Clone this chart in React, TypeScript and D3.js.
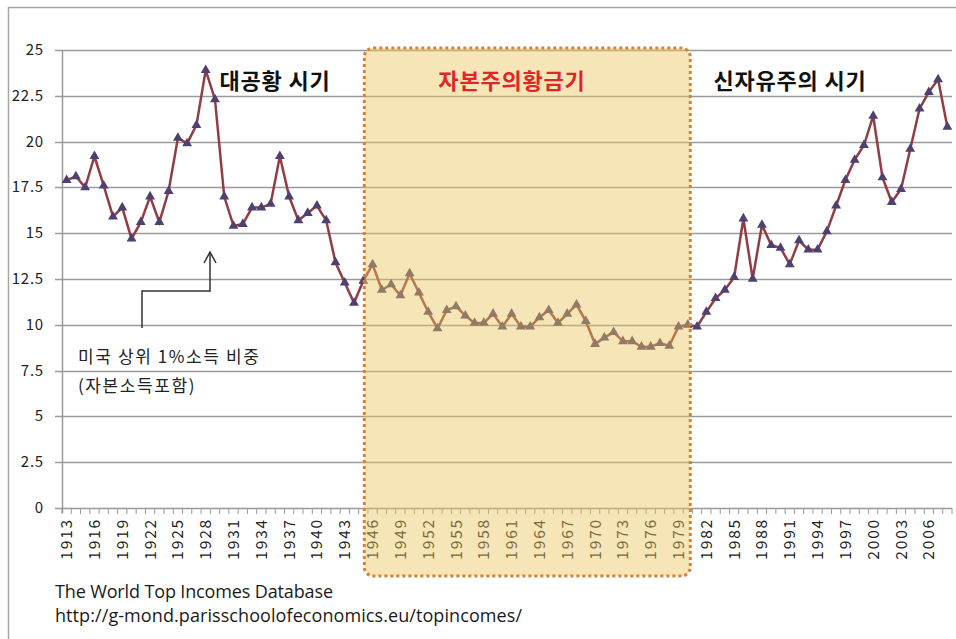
import React, { useEffect, useRef } from "react";
import * as d3 from "d3";

// 미국 상위 1% 소득 비중 (자본소득 포함), 1913-2008
const years: number[] = d3.range(1913, 2009);
const shares: number[] = [
  17.9, 18.1, 17.5, 19.2, 17.6, 15.9, 16.4, 14.7, 15.6, 17.0,
  15.6, 17.3, 20.2, 19.9, 20.9, 23.9, 22.3, 17.0, 15.4, 15.5,
  16.4, 16.4, 16.6, 19.2, 17.0, 15.7, 16.1, 16.5, 15.7, 13.4,
  12.3, 11.2, 12.4, 13.3, 11.9, 12.2, 11.6, 12.8, 11.75, 10.7,
  9.8, 10.8, 11.0, 10.5, 10.1, 10.1, 10.6, 9.9, 10.6, 9.9,
  9.9, 10.4, 10.8, 10.1, 10.6, 11.1, 10.2, 8.95, 9.3, 9.6,
  9.1, 9.1, 8.8, 8.8, 9.0, 8.85, 9.9, 10.0, 9.9, 10.7,
  11.45, 11.9, 12.6, 15.8, 12.5, 15.45, 14.35, 14.2, 13.3, 14.6,
  14.1, 14.1, 15.1, 16.5, 17.9, 19.0, 19.8, 21.4, 18.05, 16.7,
  17.4, 19.6, 21.8, 22.7, 23.4, 20.8,
];
const yTicks: number[] = [0, 2.5, 5, 7.5, 10, 12.5, 15, 17.5, 20, 22.5, 25];
const periodLabels: string[] = ["대공황 시기", "자본주의황금기", "신자유주의 시기"];
const goldenStart = 1945;
const goldenEnd = 1980;

const W = 956;
const H = 639;
const KR = "'Noto Sans CJK KR', 'Noto Sans', sans-serif";

export default function App() {
  const svgRef = useRef<SVGSVGElement>(null);

  useEffect(() => {
    const svg = d3.select(svgRef.current);
    svg.selectAll("*").remove();

    const x = d3.scaleBand<number>().domain(years).range([62, 952]).padding(0);
    const y = d3.scaleLinear().domain([0, 25]).range([508, 50]);
    const cx = (yr: number) => (x(yr) as number) + x.bandwidth() / 2;

    svg.append("rect").attr("width", W).attr("height", H).attr("fill", "#fff");

    // outer frame
    svg
      .append("path")
      .attr("d", `M8.5,${H} L8.5,7.5 L${W},7.5`)
      .attr("fill", "none")
      .attr("stroke", "#a6a6a6")
      .attr("stroke-width", 1.5);

    // gridlines + y axis
    const grid = svg.append("g");
    grid
      .selectAll("line")
      .data(yTicks)
      .join("line")
      .attr("x1", 55)
      .attr("x2", 952)
      .attr("y1", (d) => Math.round(y(d)) + 0.5)
      .attr("y2", (d) => Math.round(y(d)) + 0.5)
      .attr("stroke", "#9a9a9a")
      .attr("stroke-width", 1.5);
    grid
      .append("line")
      .attr("x1", 62.5)
      .attr("x2", 62.5)
      .attr("y1", y(25))
      .attr("y2", y(0) + 5)
      .attr("stroke", "#9a9a9a")
      .attr("stroke-width", 1.5);
    grid
      .selectAll("text")
      .data(yTicks)
      .join("text")
      .attr("x", 44)
      .attr("y", (d) => y(d) + 5)
      .attr("text-anchor", "end")
      .attr("font-family", KR)
      .attr("font-size", 15)
      .attr("letter-spacing", 0.8)
      .attr("fill", "#222")
      .text((d) => String(d));

    // x minor ticks at category boundaries
    const xAxis = svg.append("g");
    xAxis
      .selectAll("line")
      .data(years.concat([2009]))
      .join("line")
      .attr("x1", (d) => (d === 2009 ? 952 : (x(d) as number)))
      .attr("x2", (d) => (d === 2009 ? 952 : (x(d) as number)))
      .attr("y1", y(0))
      .attr("y2", y(0) + 6)
      .attr("stroke", "#9a9a9a")
      .attr("stroke-width", 1);
    xAxis
      .selectAll("text")
      .data(years.filter((d) => (d - 1913) % 3 === 0))
      .join("text")
      .attr("transform", (d) => `translate(${cx(d) + 5.5},518) rotate(-90)`)
      .attr("text-anchor", "end")
      .attr("font-family", KR)
      .attr("font-size", 15.5)
      .attr("letter-spacing", 1.8)
      .attr("fill", "#222")
      .text((d) => String(d));

    // series line + triangle markers
    const pts = years.map((yr, i) => [cx(yr), y(shares[i])] as [number, number]);
    svg
      .append("path")
      .attr("d", d3.line()(pts))
      .attr("fill", "none")
      .attr("stroke", "#923c44")
      .attr("stroke-width", 2.5);
    const tri = d3.symbol().type(d3.symbolTriangle).size(42);
    svg
      .append("g")
      .selectAll("path")
      .data(pts)
      .join("path")
      .attr("transform", (p) => `translate(${p[0]},${p[1]})`)
      .attr("d", tri() as string)
      .attr("fill", "#4e416f");

    // golden age box
    const bx0 = cx(goldenStart) + 1;
    const bx1 = cx(goldenEnd) + 2.5;
    svg
      .append("rect")
      .attr("x", bx0)
      .attr("y", 48)
      .attr("width", bx1 - bx0)
      .attr("height", 576 - 48)
      .attr("rx", 9)
      .attr("fill", "rgba(232, 196, 92, 0.44)")
      .attr("stroke", "#d9812f")
      .attr("stroke-width", 3)
      .attr("stroke-dasharray", "3,3");

    // period labels
    const labels = [
      { t: periodLabels[0], x: 275, c: "#111" },
      { t: periodLabels[1], x: 512, c: "#e0262a" },
      { t: periodLabels[2], x: 790, c: "#111" },
    ];
    svg
      .append("g")
      .selectAll("text")
      .data(labels)
      .join("text")
      .attr("x", (d) => d.x)
      .attr("y", 89)
      .attr("text-anchor", "middle")
      .attr("font-family", KR)
      .attr("font-weight", "bold")
      .attr("font-size", 22)
      .attr("letter-spacing", 0.8)
      .attr("fill", (d) => d.c)
      .text((d) => d.t);

    // annotation arrow
    svg
      .append("path")
      .attr("d", "M142,328 L142,291 L210,291 L210,252")
      .attr("fill", "none")
      .attr("stroke", "#333")
      .attr("stroke-width", 1.5);
    svg
      .append("path")
      .attr("d", "M204,263 L210,252 L216,263")
      .attr("fill", "none")
      .attr("stroke", "#333")
      .attr("stroke-width", 1.5);
    const note = svg
      .append("g")
      .attr("font-family", KR)
      .attr("font-size", 17)
      .attr("letter-spacing", 1.6)
      .attr("fill", "#222");
    note.append("text").attr("x", 78).attr("y", 363).text("미국 상위 1%소득 비중");
    note.append("text").attr("x", 78).attr("y", 392).text("(자본소득포함)");

    // source
    const src = svg
      .append("g")
      .attr("font-family", "'Open Sans', sans-serif")
      .attr("font-size", 18)
      .attr("fill", "#1a1a1a");
    src.append("text").attr("x", 55).attr("y", 598).attr("textLength", 278).text("The World Top Incomes Database");
    src.append("text").attr("x", 55).attr("y", 622).attr("textLength", 467).text("http://g-mond.parisschoolofeconomics.eu/topincomes/");
  }, []);

  return (
    <svg
      ref={svgRef}
      width={W}
      height={H}
      style={{ position: "absolute", left: 0, top: 0, display: "block" }}
    />
  );
}
